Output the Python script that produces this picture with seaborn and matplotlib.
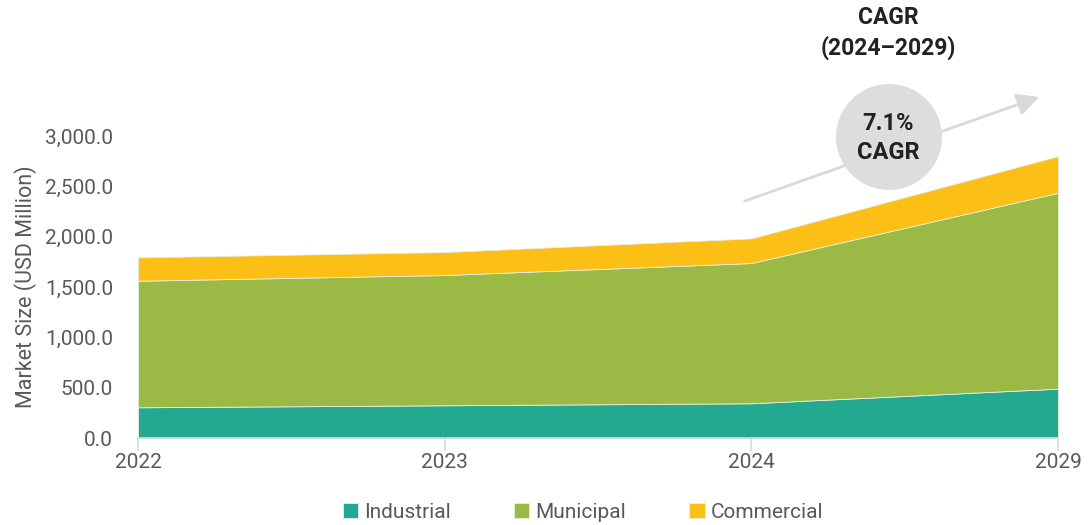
import numpy as np
import pandas as pd
import matplotlib
matplotlib.use("Agg")
import matplotlib.pyplot as plt
from matplotlib.patches import Circle, FancyArrowPatch
from matplotlib.ticker import FuncFormatter
import seaborn as sns

# Market size by segment (USD million)
years = ["2022", "2023", "2024", "2029"]
industrial = [305, 325, 345, 490]
municipal = [1257, 1294, 1393, 1946]
commercial = [232, 228, 245, 364]
segments = ["Industrial", "Municipal", "Commercial"]
colors = ["#22a98f", "#9bb945", "#fbbf16"]
cagr_label = "7.1%\nCAGR"
cagr_title = "CAGR\n(2024\u20132029)"

df = pd.DataFrame({"Year": years, "Industrial": industrial,
                   "Municipal": municipal, "Commercial": commercial})

sns.set_theme(style="white")
plt.rcParams["font.family"] = ["Roboto", "DejaVu Sans"]

fig = plt.figure(figsize=(10.92, 5.25), dpi=100)
ax = fig.add_axes([138 / 1092, 87 / 525, 920 / 1092, 302 / 525])

x = np.arange(len(df))
ax.stackplot(x, [df[s] for s in segments], colors=colors, labels=segments,
             edgecolor="#e8efe0", linewidth=0.6)

ax.set_xlim(0, len(df) - 1)
ax.set_ylim(0, 3000)
ax.set_xticks(x)
ax.set_xticklabels(df["Year"])
ax.set_yticks(np.arange(0, 3001, 500))
ax.yaxis.set_major_formatter(FuncFormatter(lambda v, p: f"{v:,.1f}"))

for side in ["top", "right", "left"]:
    ax.spines[side].set_visible(False)
ax.spines["bottom"].set_color("#d9d9d9")
ax.spines["bottom"].set_linewidth(1.2)
ax.tick_params(axis="x", bottom=True, length=9, width=1.2, color="#d9d9d9",
               labelsize=15, labelcolor="#595959", pad=2)
ax.tick_params(axis="y", left=False, labelsize=15, labelcolor="#595959", pad=12)
ax.set_ylabel("Market Size (USD Million)", fontsize=15.5, color="#595959",
              labelpad=6)
ax.set_xlabel("")

# Growth arrow and CAGR bubble
arrow = FancyArrowPatch((742, 525 - 202), (1042, 525 - 96),
                        transform=None, arrowstyle="-|>,head_length=9,head_width=4.5",
                        color="#d9d9d9", linewidth=2.0, mutation_scale=1.5)
fig.add_artist(arrow)
bubble = Circle((8.89, (525 - 137) / 100), 0.53, transform=fig.dpi_scale_trans,
                facecolor="#dcdddf", edgecolor="none")
fig.add_artist(bubble)
fig.text(888 / 1092, 1 - 138 / 525, cagr_label, ha="center", va="center",
         fontsize=17, fontweight="bold", color="#222222", linespacing=1.35)
fig.text(888 / 1092, 1 - 33 / 525, cagr_title, ha="center", va="center",
         fontsize=16.5, fontweight="bold", color="#222222", linespacing=1.3)

ax.legend(loc="center", bbox_to_anchor=(583 / 1092, 1 - 512 / 525),
          bbox_transform=fig.transFigure, ncol=3, frameon=False,
          handlelength=0.75, handleheight=0.75, handletextpad=0.3,
          columnspacing=3.0, fontsize=15, labelcolor="#595959")

fig.savefig("out.png", dpi=100)
